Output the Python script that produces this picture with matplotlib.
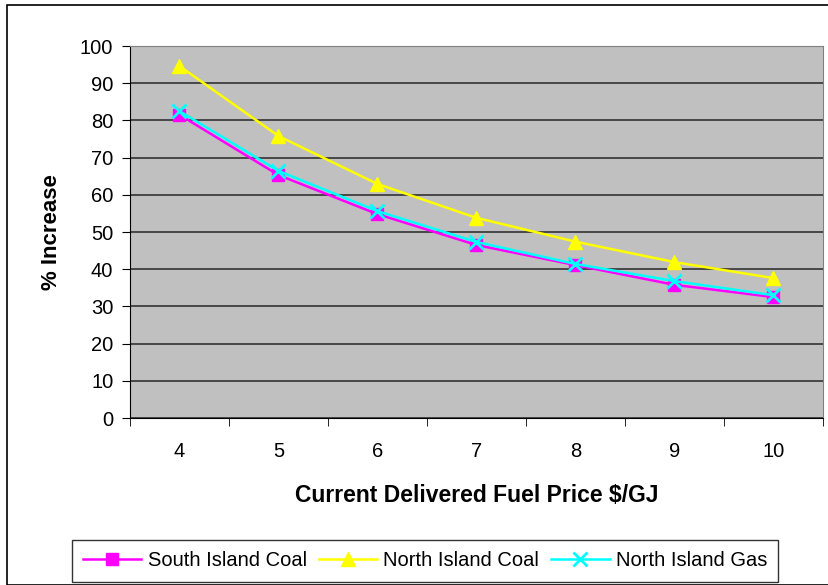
import matplotlib.pyplot as plt
from matplotlib.patches import Rectangle

plt.rcParams['font.family'] = ['Liberation Sans', 'DejaVu Sans']

# Fuel price categories ($/GJ) and % increase for each fuel
prices = ['4', '5', '6', '7', '8', '9', '10']
south_island_coal = [81.5, 65.3, 54.8, 46.5, 41.1, 35.8, 32.5]
north_island_coal = [94.6, 75.8, 62.9, 53.8, 47.4, 41.9, 37.6]
north_island_gas = [82.5, 66.4, 55.6, 47.3, 41.4, 36.8, 33.0]

fig = plt.figure(figsize=(8.29, 5.85), dpi=100)
ax = fig.add_axes([130 / 829, 1 - 418 / 585, 693 / 829, 372 / 585])

# outer chart border
fig.patches.append(Rectangle((7 / 829, 0.0), 1.0, 1 - 5 / 585, transform=fig.transFigure,
                             fill=False, edgecolor='black', linewidth=1.2))

x = list(range(len(prices)))
ax.plot(x, south_island_coal, color='#FF00FF', marker='s', markersize=8, linewidth=1.8,
        label='South Island Coal')
ax.plot(x, north_island_coal, color='#FFFF00', marker='^', markersize=10, linewidth=1.8,
        label='North Island Coal')
ax.plot(x, north_island_gas, color='#00FFFF', marker='x', markersize=10, markeredgewidth=2,
        linewidth=1.8, label='North Island Gas')

ax.set_facecolor('#C0C0C0')
ax.set_xlim(-0.5, len(prices) - 0.5)
ax.set_ylim(0, 100)
ax.set_yticks(range(0, 101, 10))
ax.set_xticks(x)
ax.set_xticklabels(prices)
ax.set_xticks([i - 0.5 for i in range(len(prices) + 1)], minor=True)
ax.tick_params(axis='x', which='major', length=0, pad=17, labelsize=14.5)
ax.tick_params(axis='x', which='minor', length=6, direction='out', color='black')
ax.tick_params(axis='y', length=6, direction='out', labelsize=14.5, pad=6)
ax.yaxis.grid(True, color='#333333', linewidth=1.2)
ax.set_axisbelow(True)

for side in ['top', 'right']:
    ax.spines[side].set_color('#808080')
for side in ['left', 'bottom']:
    ax.spines[side].set_color('black')

ax.set_xlabel('Current Delivered Fuel Price $/GJ', fontsize=16.5, fontweight='bold', labelpad=17)
ax.set_ylabel('% Increase', fontsize=16, fontweight='bold', labelpad=13)

leg = fig.legend(loc='center', bbox_to_anchor=(425 / 829, 1 - 561 / 585), ncol=3,
                 fontsize=14.5, frameon=True, fancybox=False, edgecolor='black',
                 handlelength=2.9, columnspacing=0.6, handletextpad=0.3, borderpad=0.55)
leg.get_frame().set_linewidth(1.0)

fig.savefig('out.png', dpi=100)
